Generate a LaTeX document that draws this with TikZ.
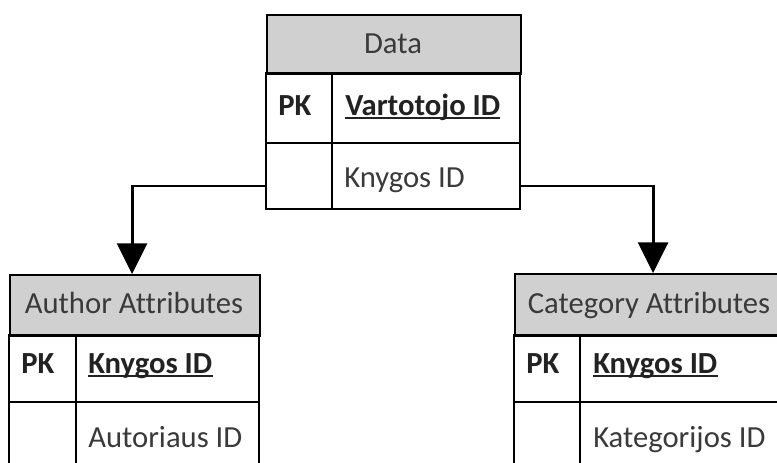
\documentclass[tikz,border=0pt]{standalone}
\usepackage{fontspec}
\setmainfont{Carlito}[Ligatures=NoCommon]
\usetikzlibrary{arrows.meta}
\definecolor{hdrgray}{RGB}{208,208,208}
\definecolor{ink}{RGB}{58,58,58}
\definecolor{inkb}{RGB}{34,34,34}
\newcommand\erfont{\fontsize{23}{26}\selectfont}

\begin{document}
\begin{tikzpicture}[x=0.75pt,y=-0.75pt,
  hbox/.style={draw=black, line width=1.6pt, fill=hdrgray, anchor=north west, inner sep=0pt},
  cellline/.style={draw=black, line width=1.6pt},
  htext/.style={anchor=base, inner sep=0pt, text=ink, font=\erfont},
  ftext/.style={anchor=base west, inner sep=0pt, text=ink, font=\erfont},
  pktext/.style={anchor=base west, inner sep=0pt, text=inkb, font=\erfont\bfseries},
  keytext/.style={anchor=base west, inner sep=0pt, text=inkb, font=\erfont\bfseries},
  uline/.style={draw=inkb, line width=1.4pt},
  conn/.style={draw=black, line width=2.2pt, -{Triangle[width=22.5pt,length=23pt]}}
]
\useasboundingbox (0,0) rectangle (777,462);
\fill[white] (0,0) rectangle (777,462);
\clip (0,0) rectangle (777,462);

% ---- table Data ----
\node[hbox, minimum width=190.5pt, minimum height=44.25pt] (dataH) at (266,14) {};
\draw[cellline] (266,73) rectangle (520,209);
\draw[cellline] (266,143) -- (520,143);
\draw[cellline] (332,73) -- (332,209);
\node[htext] (dataT) at (393,53) {Data};
\node[pktext] (dataPK) at (278,115) {PK};
\node[keytext] (dataK) at (345,115) {Vartotojo ID};
\draw[uline] ([yshift=-2.4pt]dataK.base west) -- ([yshift=-2.4pt]dataK.base east);
\node[ftext] (dataF) at (344,187) {Knygos ID};

% ---- table Author Attributes ----
\node[hbox, minimum width=187.5pt, minimum height=45.75pt] (authH) at (9,274) {};
\draw[cellline] (9,500) -- (9,335) -- (259,335) -- (259,500);
\draw[cellline] (9,402) -- (259,402);
\draw[cellline] (76,335) -- (76,500);
\node[htext] (authT) at (134,313) {Author Attributes};
\node[pktext] (authPK) at (21,373) {PK};
\node[keytext] (authK) at (88,373) {Knygos ID};
\draw[uline] ([yshift=-2.4pt]authK.base west) -- ([yshift=-2.4pt]authK.base east);
\node[ftext] (authF) at (88,447) {Autoriaus ID};

% ---- table Category Attributes ----
\node[hbox, minimum width=207pt, minimum height=46.5pt] (catH) at (514,273) {};
\draw[cellline] (514,500) -- (514,335) -- (790,335) -- (790,500);
\draw[cellline] (514,402) -- (790,402);
\draw[cellline] (580,335) -- (580,500);
\node[htext] (catT) at (649,313) {Category Attributes};
\node[pktext] (catPK) at (526,373) {PK};
\node[keytext] (catK) at (593,373) {Knygos ID};
\draw[uline] ([yshift=-2.4pt]catK.base west) -- ([yshift=-2.4pt]catK.base east);
\node[ftext] (catF) at (593,447) {Kategorijos ID};

% ---- connectors ----
\coordinate (dl) at (266,186);
\coordinate (dr) at (520,186);
\draw[conn] (dl) -| ([xshift=-2.25pt]authH.north);
\draw[conn] (dr) -| (catH.north);
\end{tikzpicture}
\end{document}
